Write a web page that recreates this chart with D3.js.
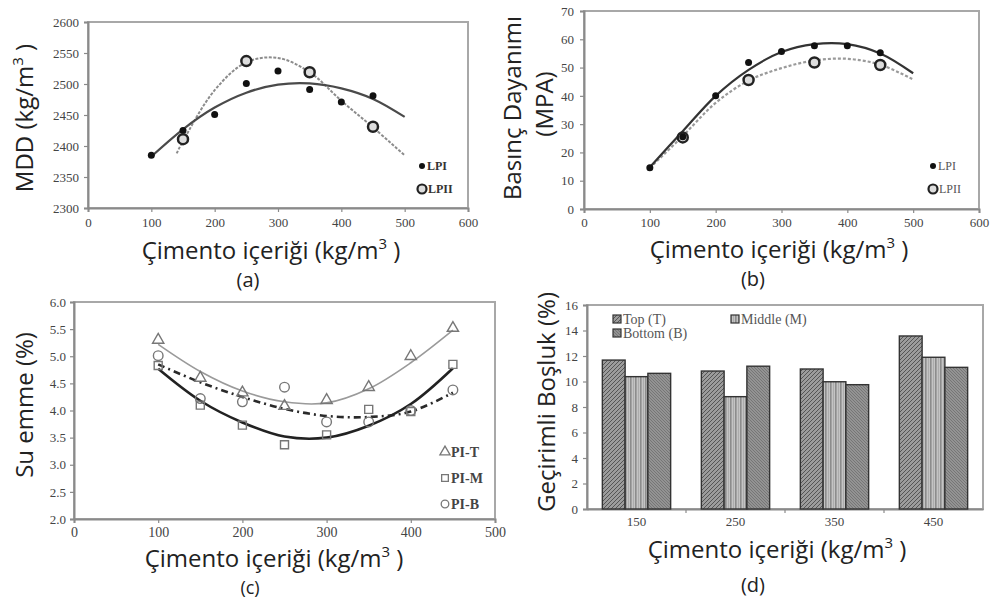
<!DOCTYPE html>
<html><head><meta charset="utf-8">
<script src="https://cdn.jsdelivr.net/npm/d3@7"></script>
<style>
body{margin:0;background:#fff;}
svg{display:block;}
</style></head><body>
<svg id="c" width="998" height="599"></svg>
<script>
// ---------- data ----------
const cementTicks600 = [0,100,200,300,400,500,600];
const cementTicks500 = [0,100,200,300,400,500];
const mddTicks = [2300,2350,2400,2450,2500,2550,2600];
const strengthTicks = [0,10,20,30,40,50,60,70];
const absorptionTicks = [2.0,2.5,3.0,3.5,4.0,4.5,5.0,5.5,6.0];
const voidTicks = [0,2,4,6,8,10,12,14,16];

const lpiCement = [100,150,200,250,300,350,400,450];
const lpiiCement = [150,250,350,450];
const mddLPI = [2385,2425,2451,2501,2521,2491,2471,2481];
const mddLPII = [2411,2537,2519,2431];
const mddTrendCementLPI = [100,150,200,250,300,350,400,450,500];
const mddTrendLPI = [2383,2427,2462,2486,2499,2501,2493,2476,2447];
const mddTrendCementLPII = [140,150,200,250,300,350,400,450,500];
const mddTrendLPII = [2388,2408,2490,2535,2542,2519,2473,2430,2385];

const strLPI = [14.6,25.5,40,51.8,55.7,57.7,57.7,55.2];
const strLPII = [25.3,45.6,51.8,50.9];
const strTrendCement = [100,150,200,250,300,350,400,450,500];
const strTrendLPI = [14.8,27.5,40,49.2,55.5,58.3,58.3,55,48];
const strTrendLPII = [14.5,25.8,37.5,45.4,49.8,52.5,53.1,51,45.8];

const piCement = [100,150,200,250,300,350,400,450];
const absPIT = [5.3,4.6,4.33,4.08,4.19,4.43,5.0,5.52];
const absPIM = [4.83,4.1,3.73,3.37,3.55,4.02,3.98,4.85];
const absPIB = [5.01,4.22,4.16,4.43,3.79,3.79,4.0,4.38];
const absTrendPIT = [5.22,4.72,4.36,4.16,4.14,4.4,4.88,5.48];
const absTrendPIM = [4.77,4.18,3.78,3.52,3.5,3.72,4.12,4.78];
const absTrendPIB = [4.85,4.52,4.25,4.03,3.9,3.88,3.98,4.33];

const voidCategories = ['150','250','350','450'];
const voidSeries = ['Top (T)','Middle (M)','Bottom (B)'];
const voidTop = [11.68,10.82,10.98,13.57];
const voidMiddle = [10.38,8.81,9.98,11.9];
const voidBottom = [10.64,11.2,9.75,11.11];

// ---------- helpers ----------
const SERIF = '"Liberation Serif","Times New Roman",serif';
const SANS = '"Open Sans","Noto Sans",sans-serif';
const svg = d3.select('#c');
svg.append('rect').attr('width',998).attr('height',599).attr('fill','#fff');

function frame(x0,x1,yTop,yBot){
  svg.append('rect').attr('x',x0).attr('y',yTop).attr('width',x1-x0).attr('height',yBot-yTop)
    .attr('fill','none').attr('stroke','#a8a8a8').attr('stroke-width',2);
}
function styleAxis(sel, fs){
  sel.select('.domain').attr('stroke','#8a8a8a').attr('stroke-width',2);
  sel.selectAll('.tick line').attr('stroke','#8a8a8a').attr('stroke-width',1.2);
  sel.selectAll('.tick text').attr('font-family',SERIF).attr('font-size',fs).attr('fill','#444');
}
function xTitle(cx, y){
  const t = svg.append('text').attr('x',cx).attr('y',y).attr('text-anchor','middle')
    .attr('font-family',SANS).attr('font-size',24).attr('fill','#222');
  t.append('tspan').text('Çimento içeriği (kg/m');
  t.append('tspan').attr('dy',-10).attr('font-size',15).text('3');
  t.append('tspan').attr('dy',10).text(' )');
}
function caption(cx, y, s, fs){
  svg.append('text').attr('x',cx).attr('y',y).attr('text-anchor','middle')
    .attr('font-family',SANS).attr('font-size',fs||20).attr('fill','#222').text(s);
}
function yTitle(x, cy, parts){
  const t = svg.append('text').attr('transform',`translate(${x},${cy}) rotate(-90)`)
    .attr('text-anchor','middle').attr('font-family',SANS).attr('font-size',24).attr('fill','#222');
  parts.forEach(p=>{
    const s = t.append('tspan').text(p.t);
    if(p.sup){ s.attr('dy',-10).attr('font-size',15); }
    if(p.after){ s.attr('dy',10); }
  });
}
const curve = d3.curveCatmullRom.alpha(0.5);
const intFmt = d3.format('d');

// ---------- panel (a) ----------
{
  const x = d3.scaleLinear().domain([0,600]).range([88,468]);
  const y = d3.scaleLinear().domain([2300,2600]).range([208,22]);
  frame(88,468,22,208);
  const ax = svg.append('g').attr('transform','translate(0,208)')
    .call(d3.axisBottom(x).tickValues(cementTicks600).tickFormat(intFmt).tickSize(4).tickPadding(6));
  styleAxis(ax,13);
  const ay = svg.append('g').attr('transform','translate(88,0)')
    .call(d3.axisLeft(y).tickValues(mddTicks).tickFormat(intFmt).tickSize(4).tickPadding(5));
  styleAxis(ay,13);
  const line = d3.line().x(d=>x(d[0])).y(d=>y(d[1])).curve(curve);
  svg.append('path').attr('d',line(d3.zip(mddTrendCementLPII,mddTrendLPII)))
    .attr('fill','none').attr('stroke','#8c8c8c').attr('stroke-width',2).attr('stroke-dasharray','3,1.5');
  svg.append('path').attr('d',line(d3.zip(mddTrendCementLPI,mddTrendLPI)))
    .attr('fill','none').attr('stroke','#4a4a4a').attr('stroke-width',2.2);
  svg.selectAll(null).data(d3.zip(lpiCement,mddLPI)).join('circle')
    .attr('cx',d=>x(d[0])).attr('cy',d=>y(d[1])).attr('r',3.5).attr('fill','#111');
  svg.selectAll(null).data(d3.zip(lpiiCement,mddLPII)).join('circle')
    .attr('cx',d=>x(d[0])).attr('cy',d=>y(d[1])).attr('r',5).attr('fill','#ddd')
    .attr('stroke','#222').attr('stroke-width',2.5);
  svg.append('circle').attr('cx',422).attr('cy',166).attr('r',3).attr('fill','#111');
  svg.append('text').attr('x',427).attr('y',170).attr('font-family',SERIF).attr('font-size',12)
    .attr('font-weight','bold').attr('fill','#333').text('LPI');
  svg.append('circle').attr('cx',422).attr('cy',189).attr('r',4.5).attr('fill','#ddd')
    .attr('stroke','#222').attr('stroke-width',2.2);
  svg.append('text').attr('x',428).attr('y',193).attr('font-family',SERIF).attr('font-size',12)
    .attr('font-weight','bold').attr('fill','#333').text('LPII');
  yTitle(33,118,[{t:'MDD (kg/m'},{t:'3',sup:true},{t:' )',after:true}]);
  xTitle(271,259);
  caption(248,287,'(a)');
}

// ---------- panel (b) ----------
{
  const x = d3.scaleLinear().domain([0,600]).range([584,979]);
  const y = d3.scaleLinear().domain([0,70]).range([209,11]);
  frame(584,979,11,209);
  const ax = svg.append('g').attr('transform','translate(0,209)')
    .call(d3.axisBottom(x).tickValues(cementTicks600).tickFormat(intFmt).tickSize(4).tickPadding(5));
  styleAxis(ax,13);
  const ay = svg.append('g').attr('transform','translate(584,0)')
    .call(d3.axisLeft(y).tickValues(strengthTicks).tickFormat(intFmt).tickSize(4).tickPadding(6));
  styleAxis(ay,13);
  const line = d3.line().x(d=>x(d[0])).y(d=>y(d[1])).curve(curve);
  svg.append('path').attr('d',line(d3.zip(strTrendCement,strTrendLPII)))
    .attr('fill','none').attr('stroke','#9a9a9a').attr('stroke-width',2.2).attr('stroke-dasharray','3,2');
  svg.append('path').attr('d',line(d3.zip(strTrendCement,strTrendLPI)))
    .attr('fill','none').attr('stroke','#333').attr('stroke-width',2.2);
  svg.selectAll(null).data(d3.zip(lpiiCement,strLPII)).join('circle')
    .attr('cx',d=>x(d[0])).attr('cy',d=>y(d[1])).attr('r',5).attr('fill','#ddd')
    .attr('stroke','#222').attr('stroke-width',2.5);
  svg.selectAll(null).data(d3.zip(lpiCement,strLPI)).join('circle')
    .attr('cx',d=>x(d[0])).attr('cy',d=>y(d[1])).attr('r',3.5).attr('fill','#111');
  svg.append('circle').attr('cx',933).attr('cy',166).attr('r',3).attr('fill','#111');
  svg.append('text').attr('x',938).attr('y',170).attr('font-family',SERIF).attr('font-size',12)
    .attr('fill','#555').text('LPI');
  svg.append('circle').attr('cx',933).attr('cy',189).attr('r',4.5).attr('fill','#ddd')
    .attr('stroke','#222').attr('stroke-width',2.2);
  svg.append('text').attr('x',939).attr('y',193).attr('font-family',SERIF).attr('font-size',12)
    .attr('fill','#555').text('LPII');
  yTitle(521,108,[{t:'Basınç Dayanımı'}]);
  yTitle(553,104,[{t:'(MPA)'}]);
  xTitle(779,258);
  caption(753,286,'(b)');
}

// ---------- panel (c) ----------
{
  const x = d3.scaleLinear().domain([0,500]).range([74,495]);
  const y = d3.scaleLinear().domain([2,6]).range([519,302]);
  frame(74,495,302,519);
  const ax = svg.append('g').attr('transform','translate(0,519)')
    .call(d3.axisBottom(x).tickValues(cementTicks500).tickFormat(intFmt).tickSize(4).tickPadding(4));
  styleAxis(ax,14);
  const ay = svg.append('g').attr('transform','translate(74,0)')
    .call(d3.axisLeft(y).tickValues(absorptionTicks).tickFormat(d3.format('.1f')).tickSize(4).tickPadding(4));
  styleAxis(ay,13);
  const line = d3.line().x(d=>x(d[0])).y(d=>y(d[1])).curve(curve);
  svg.append('path').attr('d',line(d3.zip(piCement,absTrendPIT)))
    .attr('fill','none').attr('stroke','#9a9a9a').attr('stroke-width',1.6);
  svg.append('path').attr('d',line(d3.zip(piCement,absTrendPIB)))
    .attr('fill','none').attr('stroke','#2a2a2a').attr('stroke-width',2.6).attr('stroke-dasharray','7,4,2,4');
  svg.append('path').attr('d',line(d3.zip(piCement,absTrendPIM)))
    .attr('fill','none').attr('stroke','#222').attr('stroke-width',2.6);
  const tri = d3.symbol().type(d3.symbolTriangle).size(55);
  const sq = d3.symbol().type(d3.symbolSquare).size(64);
  svg.selectAll(null).data(d3.zip(piCement,absPIT)).join('path')
    .attr('transform',d=>`translate(${x(d[0])},${y(d[1])})`).attr('d',tri)
    .attr('fill','none').attr('stroke','#777').attr('stroke-width',1.4);
  svg.selectAll(null).data(d3.zip(piCement,absPIM)).join('path')
    .attr('transform',d=>`translate(${x(d[0])},${y(d[1])})`).attr('d',sq)
    .attr('fill','none').attr('stroke','#777').attr('stroke-width',1.4);
  svg.selectAll(null).data(d3.zip(piCement,absPIB)).join('circle')
    .attr('cx',d=>x(d[0])).attr('cy',d=>y(d[1])).attr('r',4.8)
    .attr('fill','none').attr('stroke','#777').attr('stroke-width',1.4);
  svg.append('path').attr('transform','translate(445,452)').attr('d',d3.symbol().type(d3.symbolTriangle).size(45))
    .attr('fill','none').attr('stroke','#777').attr('stroke-width',1.3);
  svg.append('path').attr('transform','translate(445,478)').attr('d',d3.symbol().type(d3.symbolSquare).size(45))
    .attr('fill','none').attr('stroke','#777').attr('stroke-width',1.3);
  svg.append('circle').attr('cx',445).attr('cy',504).attr('r',3.8)
    .attr('fill','none').attr('stroke','#777').attr('stroke-width',1.3);
  ['PI-T','PI-M','PI-B'].forEach((s,i)=>{
    svg.append('text').attr('x',451).attr('y',457+26*i).attr('font-family',SERIF).attr('font-size',14)
      .attr('font-weight','bold').attr('fill','#444').text(s);
  });
  yTitle(33,405,[{t:'Su emme (%)'}]);
  xTitle(274,567);
  caption(250,594,'(c)',18);
}

// ---------- panel (d) ----------
{
  const defs = svg.append('defs');
  const pT = defs.append('pattern').attr('id','pT').attr('patternUnits','userSpaceOnUse').attr('width',4).attr('height',4);
  pT.append('rect').attr('width',4).attr('height',4).attr('fill','#9c9c9c');
  pT.append('path').attr('d','M-1,1 l2,-2 M0,4 l4,-4 M3,5 l2,-2').attr('stroke','#555').attr('stroke-width',1);
  const pM = defs.append('pattern').attr('id','pM').attr('patternUnits','userSpaceOnUse').attr('width',5).attr('height',5);
  pM.append('rect').attr('width',5).attr('height',5).attr('fill','#c4c4c4');
  pM.append('rect').attr('x',0).attr('width',1.6).attr('height',5).attr('fill','#8c8c8c');
  pM.append('rect').attr('x',3).attr('width',0.8).attr('height',5).attr('fill','#a6a6a6');
  const pB = defs.append('pattern').attr('id','pB').attr('patternUnits','userSpaceOnUse').attr('width',3).attr('height',3);
  pB.append('rect').attr('width',3).attr('height',3).attr('fill','#939393');
  pB.append('path').attr('d','M0,0 l3,3').attr('stroke','#6e6e6e').attr('stroke-width',0.8);
  const fills = ['url(#pT)','url(#pM)','url(#pB)'];

  const x = d3.scaleBand().domain(voidCategories).range([587,983]).paddingInner(0.31).paddingOuter(0.155);
  const xs = d3.scaleBand().domain(voidSeries).range([0,x.bandwidth()]);
  const y = d3.scaleLinear().domain([0,16]).range([509,305]);
  frame(587,983,305,509);
  const ax = svg.append('g').attr('transform','translate(0,509)')
    .call(d3.axisBottom(x).tickSize(0).tickPadding(8));
  styleAxis(ax,13);
  voidCategories.slice(1).forEach(c=>{
    const bx = x(c) - x.step()*x.paddingInner()/2;
    svg.append('line').attr('x1',bx).attr('x2',bx).attr('y1',509).attr('y2',513).attr('stroke','#8a8a8a').attr('stroke-width',1.2);
  });
  const ay = svg.append('g').attr('transform','translate(587,0)')
    .call(d3.axisLeft(y).tickValues(voidTicks).tickFormat(intFmt).tickSize(4).tickPadding(5));
  styleAxis(ay,13);
  const seriesVals = [voidTop,voidMiddle,voidBottom];
  seriesVals.forEach((vals,si)=>{
    svg.selectAll(null).data(voidCategories.map((c,i)=>[c,vals[i]])).join('rect')
      .attr('x',d=>x(d[0])+xs(voidSeries[si])).attr('width',xs.bandwidth())
      .attr('y',d=>y(d[1])).attr('height',d=>y(0)-y(d[1]))
      .attr('fill',fills[si]).attr('stroke','#333').attr('stroke-width',1.4);
  });
  const leg = [[617,319,0],[735,319,1],[617,333,2]];
  leg.forEach(([lx,ly,si])=>{
    svg.append('rect').attr('x',lx-4).attr('y',ly-4).attr('width',8).attr('height',8)
      .attr('fill',fills[si]).attr('stroke','#333').attr('stroke-width',1.2);
    svg.append('text').attr('x',lx+6).attr('y',ly+5).attr('font-family',SERIF).attr('font-size',14)
      .attr('fill','#555').text(voidSeries[si]);
  });
  yTitle(555,402,[{t:'Geçirimli Boşluk (%)'}]);
  xTitle(777,558);
  caption(753,592,'(d)');
}
</script>
</body></html>
